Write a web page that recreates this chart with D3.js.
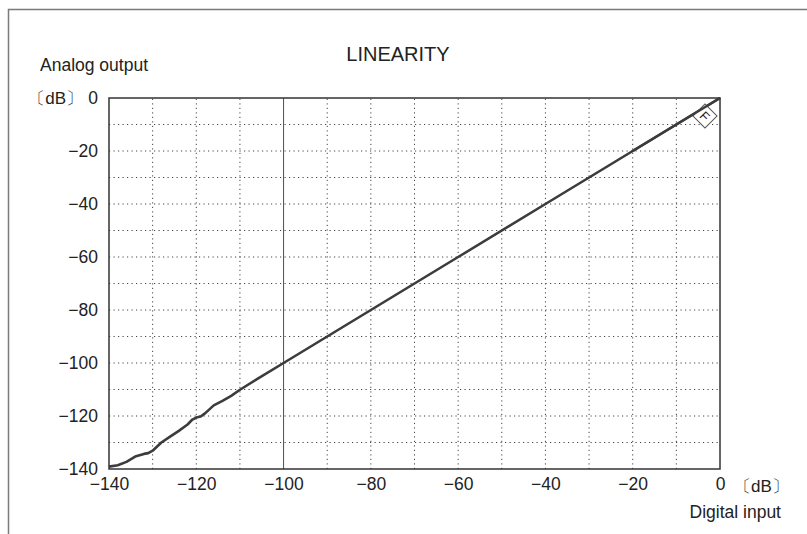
<!DOCTYPE html>
<html>
<head>
<meta charset="utf-8">
<script src="https://cdn.jsdelivr.net/npm/d3@7"></script>
<style>
  body { margin: 0; background: #fff; }
  svg text { font-family: "Liberation Sans", Arial, Helvetica, sans-serif; fill: #222; }
</style>
</head>
<body>
<div id="chart"></div>
<script>
// measured linearity (digital input dB -> analog output dB)
var inputDb  = [-140, -138, -136, -134, -132, -131, -130, -128, -126, -124, -122, -121, -120, -119, -118, -116, -114, -112, -110, -106, -100, -80, -60, -40, -20, 0];
var outputDb = [-139.1, -138.6, -137.3, -135.3, -134.3, -134.0, -133.1, -130.0, -127.8, -125.6, -123.2, -121.5, -120.6, -120.2, -119.0, -116.0, -114.3, -112.4, -110.1, -106.0, -100, -80, -60, -40, -20, 0];

var xTicks = [-140, -120, -100, -80, -60, -40, -20, 0];
var yTicks = [0, -20, -40, -60, -80, -100, -120, -140];
var gridSteps = d3.range(-130, 0, 10);

var width = 807, height = 534;
var margin = {top: 98, right: 87, bottom: 65, left: 109};

var svg = d3.select("#chart")
            .append("svg")
            .attr("width", width)
            .attr("height", height);

// outer frame (only top and left visible)
svg.append("path")
   .attr("d", "M8.5," + height + "V9.5H" + width)
   .attr("fill", "none")
   .attr("stroke", "#7a7a7a")
   .attr("stroke-width", 1.5);

var x = d3.scaleLinear()
          .domain([-140, 0])
          .range([margin.left, width - margin.right]);

var y = d3.scaleLinear()
          .domain([-140, 0])
          .range([height - margin.bottom, margin.top]);

var fmt = function(d) { return d < 0 ? "\u2212" + Math.abs(d) : String(d); };

// dotted grid every 10 dB
var grid = svg.append("g").attr("class", "grid");
grid.selectAll("line.h")
    .data(gridSteps)
    .enter().append("line")
    .attr("x1", x(-140)).attr("x2", x(0))
    .attr("y1", function(d) { return y(d); })
    .attr("y2", function(d) { return y(d); })
    .attr("stroke", "#444")
    .attr("stroke-width", 1)
    .attr("stroke-dasharray", "1.2,3.3");

grid.selectAll("line.v")
    .data(gridSteps.filter(function(d) { return d !== -100; }))
    .enter().append("line")
    .attr("y1", y(-140)).attr("y2", y(0))
    .attr("x1", function(d) { return x(d); })
    .attr("x2", function(d) { return x(d); })
    .attr("stroke", "#444")
    .attr("stroke-width", 1)
    .attr("stroke-dasharray", "1.2,3.3");

// reference line at -100 dB input
svg.append("line")
   .attr("x1", x(-100)).attr("x2", x(-100))
   .attr("y1", y(-140)).attr("y2", y(0))
   .attr("stroke", "#222")
   .attr("stroke-width", 0.8);

// axes, labels only
var xAxis = svg.append("g")
   .attr("transform", "translate(0," + y(-140) + ")")
   .call(d3.axisBottom(x).tickValues(xTicks).tickSize(0).tickPadding(9).tickFormat(fmt));
xAxis.select(".domain").remove();
xAxis.selectAll("text").attr("font-size", 17.5).attr("font-family", null);

var yAxis = svg.append("g")
   .attr("transform", "translate(" + x(-140) + ",0)")
   .call(d3.axisLeft(y).tickValues(yTicks).tickSize(0).tickPadding(11).tickFormat(fmt));
yAxis.select(".domain").remove();
yAxis.selectAll("text").attr("font-size", 17.5).attr("font-family", null);

// the measured curve
var line = d3.line()
             .x(function(d, i) { return x(inputDb[i]); })
             .y(function(d) { return y(d); });

svg.append("path")
   .datum(outputDb)
   .attr("d", line)
   .attr("fill", "none")
   .attr("stroke", "#3c3c3c")
   .attr("stroke-width", 2.6)
   .attr("stroke-linejoin", "round");

// plot frame
svg.append("rect")
   .attr("x", x(-140)).attr("y", y(0))
   .attr("width", x(0) - x(-140))
   .attr("height", y(-140) - y(0))
   .attr("fill", "none")
   .attr("stroke", "#333")
   .attr("stroke-width", 1.5);

// small diamond tag near full scale
var tag = svg.append("g")
   .attr("transform", "translate(" + (x(0) - 15) + "," + (y(0) + 18) + ") rotate(45)");
tag.append("rect")
   .attr("x", -8.5).attr("y", -8.5).attr("width", 17).attr("height", 17)
   .attr("fill", "#fff").attr("stroke", "#555").attr("stroke-width", 1);
tag.append("text")
   .attr("text-anchor", "middle").attr("y", 5)
   .attr("font-size", 13).attr("fill", "#444")
   .text("F");
// curve passes over the tag
svg.append("path")
   .datum(outputDb.slice(-2))
   .attr("d", d3.line()
      .x(function(d, i) { return x(inputDb[inputDb.length - 2 + i]); })
      .y(function(d) { return y(d); }))
   .attr("stroke", "#3c3c3c").attr("stroke-width", 2.6);

// texts
svg.append("text")
   .attr("x", 398).attr("y", 61)
   .attr("text-anchor", "middle")
   .attr("font-size", 20)
   .text("LINEARITY");

svg.append("text")
   .attr("x", 40).attr("y", 71)
   .attr("font-size", 17.5)
   .text("Analog output");

svg.append("text")
   .attr("x", 83).attr("y", y(0) + 6)
   .attr("text-anchor", "end")
   .attr("font-size", 17)
   .text("\u3014dB\u3015");

svg.append("text")
   .attr("x", 734).attr("y", y(-140) + 23)
   .attr("font-size", 17)
   .text("\u3014dB\u3015");

svg.append("text")
   .attr("x", 781).attr("y", 518)
   .attr("text-anchor", "end")
   .attr("font-size", 17.5)
   .text("Digital input");
</script>
</body>
</html>
